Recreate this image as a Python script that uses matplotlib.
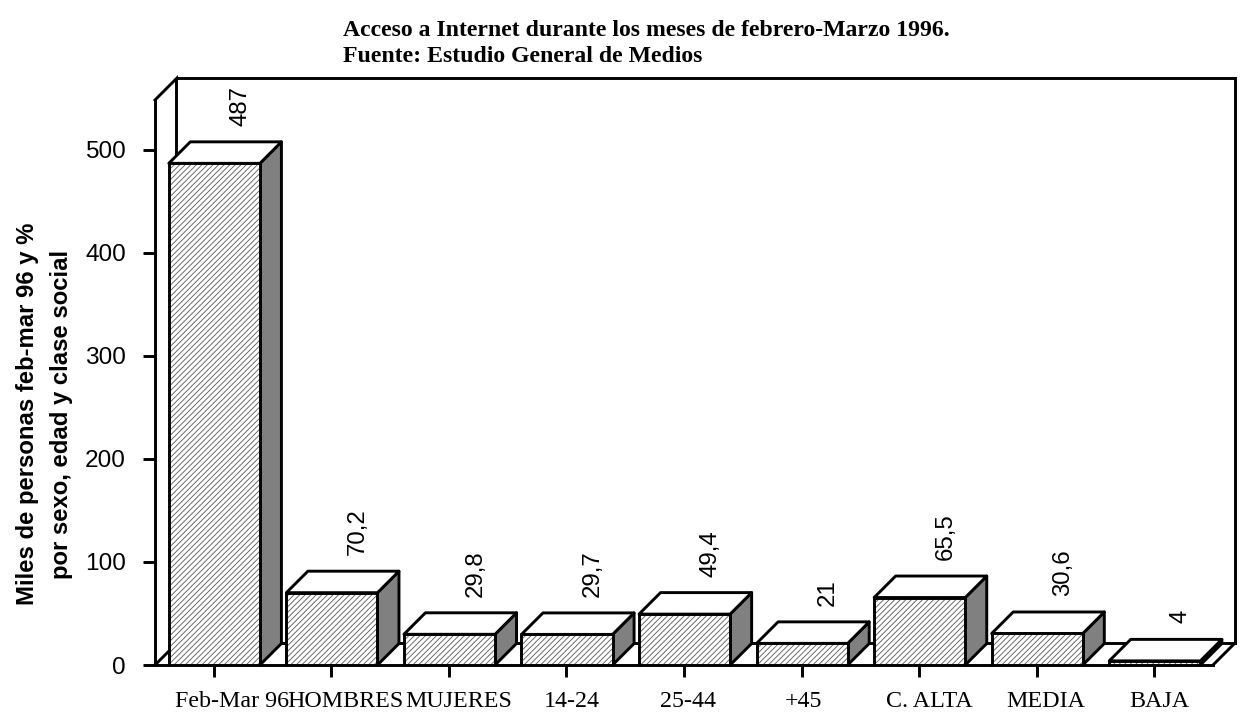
import matplotlib
matplotlib.use('Agg')
import matplotlib.pyplot as plt
from matplotlib.patches import Polygon
from matplotlib.transforms import ScaledTranslation

# data
categories = ['Feb-Mar 96', 'HOMBRES', 'MUJERES', '14-24', '25-44', '+45', 'C. ALTA', 'MEDIA', 'BAJA']
values = [487, 70.2, 29.8, 29.7, 49.4, 21, 65.5, 30.6, 4]
value_labels = ['487', '70,2', '29,8', '29,7', '49,4', '21', '65,5', '30,6', '4']
yticks = [0, 100, 200, 300, 400, 500]

W, H = 1240, 713
fig = plt.figure(figsize=(W / 100, H / 100), dpi=100)
# axes box is the front plane of the 3d chart
ax = fig.add_axes([155 / W, 1 - 665 / H, (1213 - 155) / W, (665 - 100) / H])
ax.set_xlim(0, len(categories))
ax.set_ylim(0, 548.5)
ax.patch.set_alpha(0)

lw = 2.1
dx = 21.5 / (1058 / 9)   # depth in category units
dy = 21.5 / 1.03         # depth in value units
bw = 0.775
n = len(categories)
ymax = 548.5

# back wall and floor
ax.plot([0, dx, dx], [ymax, ymax + dy, dy], color='k', lw=lw, clip_on=False, solid_joinstyle='miter')
ax.plot([dx, n + dx, n + dx], [ymax + dy, ymax + dy, dy], color='k', lw=lw, clip_on=False, solid_joinstyle='miter')
ax.plot([dx, n + dx], [dy, dy], color='k', lw=lw, clip_on=False)
ax.plot([0, dx], [0, dy], color='k', lw=lw, clip_on=False)
ax.plot([n, n + dx], [0, dy], color='k', lw=lw, clip_on=False)

plt.rcParams['hatch.linewidth'] = 0.6

for i, v in enumerate(values):
    x0 = i + (1 - bw) / 2 + 0.005
    x1 = x0 + bw
    side = Polygon([(x1, 0), (x1 + dx, dy), (x1 + dx, v + dy), (x1, v)], closed=True,
                   facecolor='#808080', edgecolor='k', lw=lw, zorder=3, clip_on=False, joinstyle='round')
    top = Polygon([(x0, v), (x0 + dx, v + dy), (x1 + dx, v + dy), (x1, v)], closed=True,
                  facecolor='white', edgecolor='k', lw=lw, zorder=3, clip_on=False, joinstyle='round')
    ax.add_patch(side)
    ax.add_patch(top)
    ax.bar(x0, v, width=bw, align='edge', facecolor='white', edgecolor='#555555',
           hatch='//////', lw=0, zorder=4)
    ax.plot([x0, x0, x1, x1], [0, v, v, 0], color='k', lw=lw, zorder=5, solid_joinstyle='round', clip_on=False)
    ax.annotate(value_labels[i], (i + 0.5, v + dy), xytext=(19, 11.5), textcoords='offset points',
                rotation=90, ha='center', va='bottom', fontsize=17.3,
                family='Liberation Sans', annotation_clip=False)

for s in ['top', 'right']:
    ax.spines[s].set_visible(False)
for s in ['left', 'bottom']:
    ax.spines[s].set_linewidth(lw)
    ax.spines[s].set_zorder(6)

ax.set_xticks([i + 0.5 for i in range(n)])
ax.set_xticklabels(categories, family='Liberation Serif', fontsize=17.3)
ax.set_yticks(yticks)
ax.set_yticklabels(yticks, family='Liberation Sans', fontsize=17.6)
ax.tick_params(axis='x', length=8.5, width=lw, pad=10)
ax.tick_params(axis='y', length=8.5, width=lw, pad=12.5)

# the original labels sit off-centre from their ticks
label_shift_px = [18, 14, 10, 5.5, 4, 1.5, 10, 9, 5]
for lab, shift in zip(ax.get_xticklabels(), label_shift_px):
    lab.set_transform(lab.get_transform() + ScaledTranslation(shift / 100, 0, fig.dpi_scale_trans))

fig.text(28 / W, 1 - 414 / H, 'Miles de personas feb-mar 96 y %', rotation=90, ha='center', va='center',
         family='Liberation Sans', fontweight='bold', fontsize=17.2)
fig.text(62 / W, 1 - 414 / H, 'por sexo, edad y clase social', rotation=90, ha='center', va='center',
         family='Liberation Sans', fontweight='bold', fontsize=17.2)
fig.text(343 / W, 1 - 31 / H, 'Acceso a Internet durante los meses de febrero-Marzo 1996.', ha='left', va='center',
         family='Liberation Serif', fontweight='bold', fontsize=17.1)
fig.text(343 / W, 1 - 57 / H, 'Fuente: Estudio General de Medios', ha='left', va='center',
         family='Liberation Serif', fontweight='bold', fontsize=17.1)

fig.savefig('out.png', dpi=100)
